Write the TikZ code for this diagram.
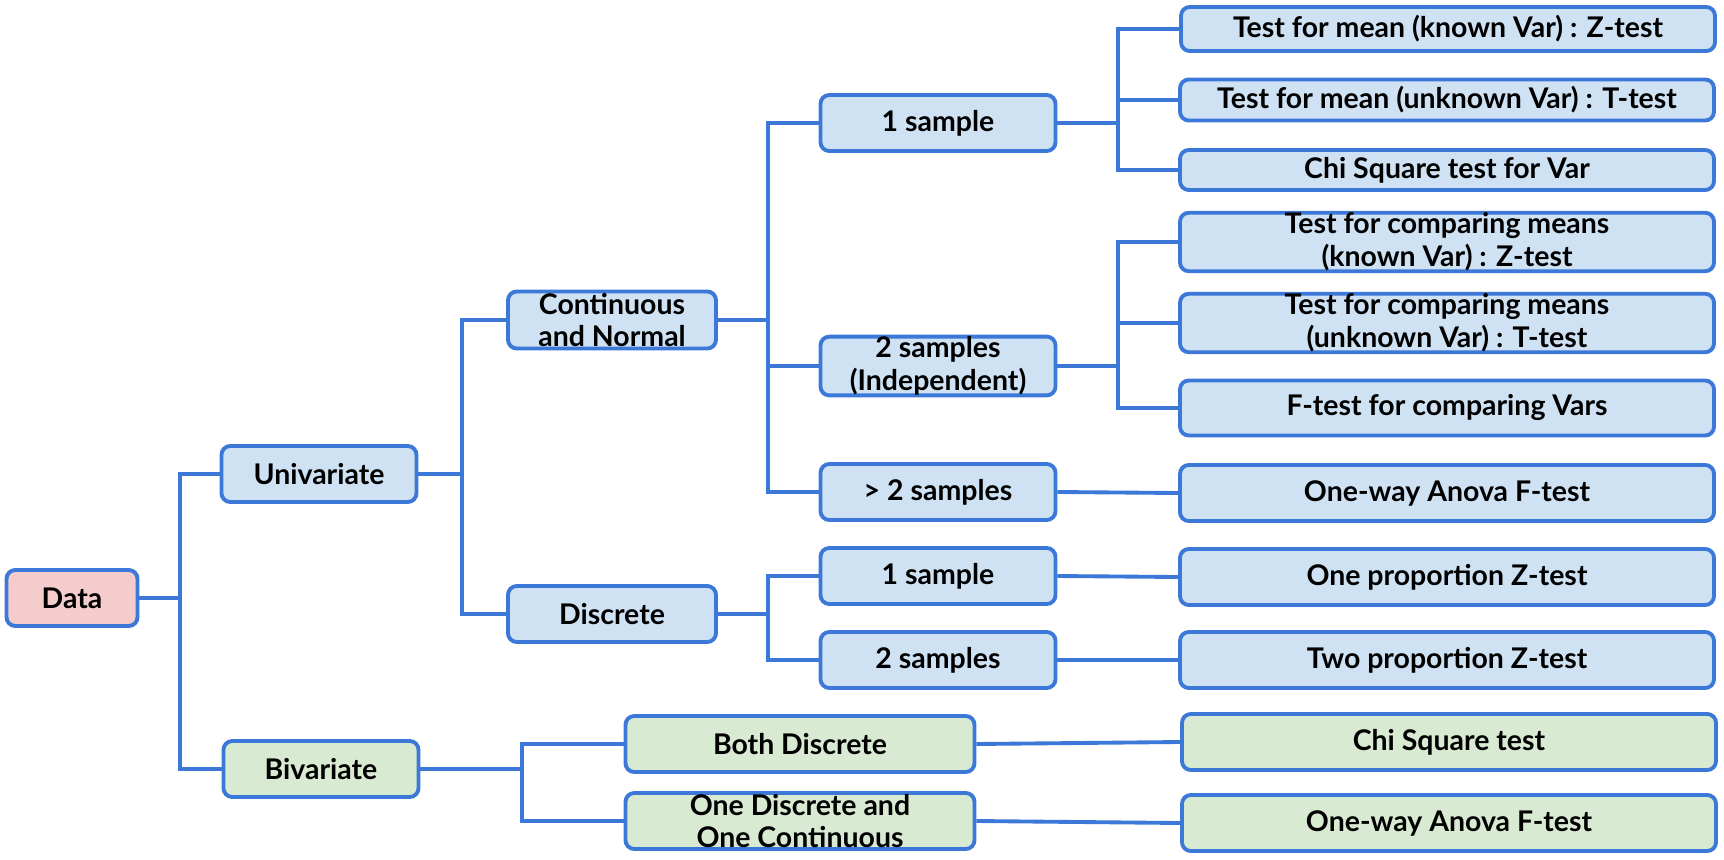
\documentclass[tikz,border=0pt]{standalone}
\usepackage{fontspec}
\setmainfont{Lato}

\definecolor{edgeblue}{HTML}{3C78D8}
\definecolor{fillblue}{HTML}{CFE2F3}
\definecolor{fillgreen}{HTML}{D9EAD3}
\definecolor{fillpink}{HTML}{F4CCCC}

\tikzset{
	box/.style={draw=edgeblue, line width=2.2pt, rounded corners=5pt, align=center, inner sep=0pt, text=black, font=\bfseries\fontsize{16.2}{18.7}\selectfont},
	unibox/.style={box, fill=fillblue},
	bibox/.style={box, fill=fillgreen},
	rootbox/.style={box, fill=fillpink},
	wh/.style 2 args={minimum width=#1*0.02cm, minimum height=#2*0.02cm},
	link/.style={draw=edgeblue, line width=2.2pt},
}

\begin{document}
\begin{tikzpicture}[x=0.02cm, y=-0.02cm]
	\useasboundingbox (0,0) rectangle (1724,859);

	% left part
	\node[rootbox, wh={131}{56}] (data) at (72,598) {Data};
	\node[unibox, wh={195}{56}] (uni) at (319,474) {Univariate};
	\node[bibox, wh={195}{56}] (biv) at (321,769) {Bivariate};

	\node[unibox, wh={208}{57}] (cont) at (612,320) {Continuous\\and Normal};
	\node[unibox, wh={208}{56}] (disc) at (612,614) {Discrete};

	\node[unibox, wh={235}{56}] (s1) at (938,123) {1 sample};
	\node[unibox, wh={235}{56}] (s2) at (938,366) {2 samples\\(Independent)};
	\node[unibox, wh={235}{56}] (s3) at (938,492) {> 2 samples};
	\node[unibox, wh={235}{56}] (d1) at (938,576) {1 sample};
	\node[unibox, wh={235}{56}] (d2) at (938,660) {2 samples};

	\node[bibox, wh={349}{56}] (both) at (800,744) {Both Discrete};
	\node[bibox, wh={349}{56}] (mixed) at (800,821) {One Discrete and\\One Continuous};

	% tests
	\node[unibox, wh={534}{44}] (t1) at (1448,29) {Test for mean (known Var) : Z-test};
	\node[unibox, wh={534}{41}] (t2) at (1447,100) {Test for mean (unknown Var) : T-test};
	\node[unibox, wh={534}{40}] (t3) at (1447,170) {Chi Square test for Var};
	\node[unibox, wh={534}{56}] (t4) at (1447,242) {Test for comparing means\\(known Var) : Z-test};
	\node[unibox, wh={534}{56}] (t5) at (1447,323) {Test for comparing means\\(unknown Var) : T-test};
	\node[unibox, wh={534}{55}] (t6) at (1447,408) {F-test for comparing Vars};
	\node[unibox, wh={534}{56}] (t7) at (1447,493) {One-way Anova F-test};
	\node[unibox, wh={534}{56}] (t8) at (1447,577) {One proportion Z-test};
	\node[unibox, wh={534}{56}] (t9) at (1447,660) {Two proportion Z-test};
	\node[bibox, wh={534}{56}] (t10) at (1449,742) {Chi Square test};
	\node[bibox, wh={534}{56}] (t11) at (1449,823) {One-way Anova F-test};

	% forks
	\coordinate (j0) at (180,598);
	\coordinate (j1) at (462,474);
	\coordinate (j2) at (768,320);
	\coordinate (j3) at (1118,123);
	\coordinate (j4) at (1118,366);
	\coordinate (j5) at (768,614);
	\coordinate (j6) at (522,769);

	\draw[link] (data.east) -- (j0);
	\foreach \n in {uni,biv}{
		\draw[link] (j0) |- (\n.west);
	}
	\draw[link] (uni.east) -- (j1);
	\foreach \n in {cont,disc}{
		\draw[link] (j1) |- (\n.west);
	}
	\draw[link] (cont.east) -- (j2);
	\foreach \n in {s1,s2,s3}{
		\draw[link] (j2) |- (\n.west);
	}
	\draw[link] (s1.east) -- (j3);
	\foreach \n in {t1,t2,t3}{
		\draw[link] (j3) |- (\n.west);
	}
	\draw[link] (s2.east) -- (j4);
	\foreach \n in {t4,t5,t6}{
		\draw[link] (j4) |- (\n.west);
	}
	\draw[link] (disc.east) -- (j5);
	\foreach \n in {d1,d2}{
		\draw[link] (j5) |- (\n.west);
	}
	\draw[link] (biv.east) -- (j6);
	\foreach \n in {both,mixed}{
		\draw[link] (j6) |- (\n.west);
	}

	% straight ones
	\draw[link] (s3.east) -- (t7.west);
	\draw[link] (d1.east) -- (t8.west);
	\draw[link] (d2.east) -- (t9.west);
	\draw[link] (both.east) -- (t10.west);
	\draw[link] (mixed.east) -- (t11.west);
\end{tikzpicture}
\end{document}
